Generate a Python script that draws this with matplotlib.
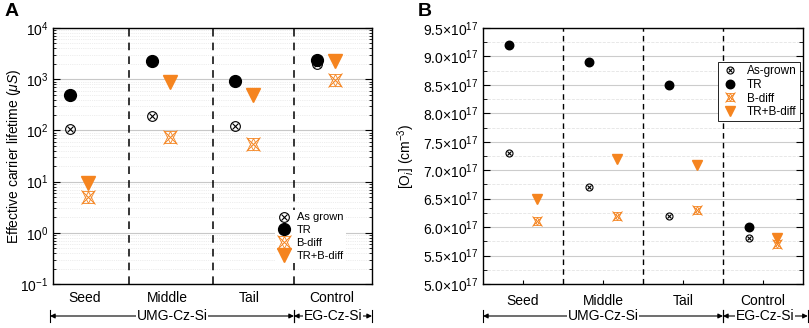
import numpy as np
import matplotlib
matplotlib.use('Agg')
import matplotlib.pyplot as plt
from matplotlib.ticker import LogLocator, MultipleLocator, FuncFormatter, NullFormatter

plt.rcParams['font.family'] = ['Liberation Sans', 'DejaVu Sans']
plt.rcParams['mathtext.fontset'] = 'custom'
plt.rcParams['mathtext.rm'] = 'Liberation Sans'
plt.rcParams['mathtext.it'] = 'Liberation Sans:italic'

# Данные
categories = ['Seed', 'Middle', 'Tail', 'Control']
groups = ['UMG-Cz-Si', 'EG-Cz-Si']

# A: время жизни, мкс
tau_asgrown = [105, 190, 120, 1950]
tau_tr = [500, 2250, 930, 2350]
tau_bdiff = [5, 75, 54, 950]
tau_trb = [9.6, 880, 500, 2250]

# B: [Oi], см^-3
oi_asgrown = [7.3e17, 6.7e17, 6.2e17, 5.8e17]
oi_tr = [9.2e17, 8.9e17, 8.5e17, 6.0e17]
oi_bdiff = [6.1e17, 6.2e17, 6.3e17, 5.7e17]
oi_trb = [6.5e17, 7.2e17, 7.1e17, 5.8e17]

orange = '#F5841F'


def draw_series(ax, x_left, x_right, asg, tr, bd, trb, s):
    h1 = ax.plot(x_left, asg, 'o', mfc='none', mec='k', ms=7 * s, mew=0.8, ls='none', zorder=4)[0]
    h2 = ax.plot(x_left, asg, 'x', color='k', ms=5 * s, mew=0.8, ls='none', zorder=4)[0]
    h3 = ax.plot(x_left, tr, 'o', color='k', ms=8.5 * s, ls='none', zorder=5)[0]
    h4 = ax.plot(x_right, bd, 'x', color=orange, ms=10 * s, mew=0.7, ls='none', zorder=4)[0]
    h5 = ax.plot(x_right, bd, '^', mfc='none', mec=orange, ms=8.5 * s, mew=0.6, ls='none', zorder=4)[0]
    h6 = ax.plot(x_right, bd, 'v', mfc='none', mec=orange, ms=8.5 * s, mew=0.6, ls='none', zorder=4)[0]
    h7 = ax.plot(x_right, trb, 'v', color=orange, ms=9.5 * s, ls='none', zorder=5)[0]
    return [(h1, h2), h3, (h4, h5, h6), h7]


def group_arrow(ax, x0, x1, label, y=-0.125):
    tr = ax.get_xaxis_transform()
    ax.annotate('', xy=(x0, y), xytext=(x1, y), xycoords=tr, textcoords=tr,
                arrowprops=dict(arrowstyle='<|-|>', lw=0.8, color='k',
                                shrinkA=0, shrinkB=0, mutation_scale=7),
                annotation_clip=False)
    ax.plot([x0, x0], [y - 0.025, y + 0.025], color='k', lw=0.8, transform=tr, clip_on=False)
    ax.plot([x1, x1], [y - 0.025, y + 0.025], color='k', lw=0.8, transform=tr, clip_on=False)
    ax.text((x0 + x1) / 2, y, label, transform=tr, ha='center', va='center', fontsize=10,
            bbox=dict(fc='white', ec='none', pad=0.5))


fig = plt.figure(figsize=(8.09, 3.28), dpi=100)
axA = fig.add_axes([53 / 809, 1 - 284 / 328, 319 / 809, 256 / 328])
axB = fig.add_axes([483 / 809, 1 - 284 / 328, 320 / 809, 256 / 328])

x = np.arange(1, 5)

# ---- A ----
axA.set_yscale('log')
axA.set_ylim(0.1, 1e4)
axA.set_xlim(0.684, 4.56)
hA = draw_series(axA, x - 0.11, x + 0.11, tau_asgrown, tau_tr, tau_bdiff, tau_trb, 1.0)
for d in [1.607, 2.628, 3.612]:
    axA.axvline(d, color='k', lw=1.1, ls=(0, (5, 4)), zorder=3)
axA.yaxis.set_major_locator(LogLocator(base=10, numticks=10))
axA.yaxis.set_minor_locator(LogLocator(base=10, subs=np.arange(2, 10), numticks=20))
axA.yaxis.set_minor_formatter(NullFormatter())
axA.grid(True, which='major', axis='y', color='#c8c8c8', lw=0.8)
axA.grid(True, which='minor', axis='y', color='#dddddd', lw=0.5, ls=':')
axA.set_xticks(x + 0.07, categories)
axA.tick_params(axis='x', length=0, pad=5, labelsize=10)
axA.tick_params(axis='y', which='both', direction='in', left=True, right=True, labelsize=10)
axA.tick_params(axis='y', which='major', length=5)
axA.tick_params(axis='y', which='minor', length=2.5)
axA.set_ylabel(r'Effective carrier lifetime ($\mu S$)', fontsize=10)
axA.yaxis.set_label_coords(-0.095, 0.5)
axA.legend(hA, ['As grown', 'TR', 'B-diff', 'TR+B-diff'], loc='upper left',
           bbox_to_anchor=(0.68, 0.31), fontsize=8, frameon=True, framealpha=1,
           edgecolor='none', fancybox=False, handlelength=1.2, handletextpad=0.5,
           labelspacing=0.25, borderpad=0.2)
group_arrow(axA, 0.648, 3.612, groups[0])
group_arrow(axA, 3.612, 4.56, groups[1])
fig.text(5 / 809, 1 - 12 / 328, 'A', fontsize=14, fontweight='bold', va='center')

# ---- B ----
axB.set_ylim(5.0e17, 9.5e17)
axB.set_xlim(0.5, 4.5)
hB = draw_series(axB, x - 0.17, x + 0.17, oi_asgrown, oi_tr, oi_bdiff, oi_trb, 0.72)
for d in [1.5, 2.5, 3.5]:
    axB.axvline(d, color='k', lw=1.0, ls=(0, (4, 3)), zorder=3)
axB.yaxis.set_major_locator(MultipleLocator(0.5e17))
axB.yaxis.set_minor_locator(MultipleLocator(0.25e17))
axB.yaxis.set_major_formatter(FuncFormatter(lambda v, p: '%.1f×10$^{17}$' % (v / 1e17)))
axB.grid(True, which='major', axis='y', color='#cccccc', lw=0.8)
axB.grid(True, which='minor', axis='y', color='#e4e4e4', lw=0.6, ls='--')
axB.set_xticks(x, categories)
axB.tick_params(axis='x', direction='in', length=3, pad=7, labelsize=10)
axB.tick_params(axis='y', which='both', direction='in', left=True, right=True, labelsize=10)
axB.tick_params(axis='y', which='major', length=5)
axB.tick_params(axis='y', which='minor', length=3)
axB.set_ylabel(r'[O$_i$] (cm$^{-3}$)', fontsize=10, labelpad=4)
legB = axB.legend(hB, ['As-grown', 'TR', 'B-diff', 'TR+B-diff'], loc='upper left',
                  bbox_to_anchor=(0.716, 0.89), fontsize=8.5, frameon=True, framealpha=1,
                  edgecolor='k', fancybox=False, handlelength=1.6, handletextpad=0.6,
                  labelspacing=0.15, borderpad=0.25)
legB.get_frame().set_linewidth(0.6)
group_arrow(axB, 0.5, 3.5, groups[0])
group_arrow(axB, 3.5, 4.56, groups[1])
fig.text(418 / 809, 1 - 12 / 328, 'B', fontsize=14, fontweight='bold', va='center')

for ax in (axA, axB):
    for sp in ax.spines.values():
        sp.set_linewidth(1.0)

fig.savefig('out.png', dpi=100)
